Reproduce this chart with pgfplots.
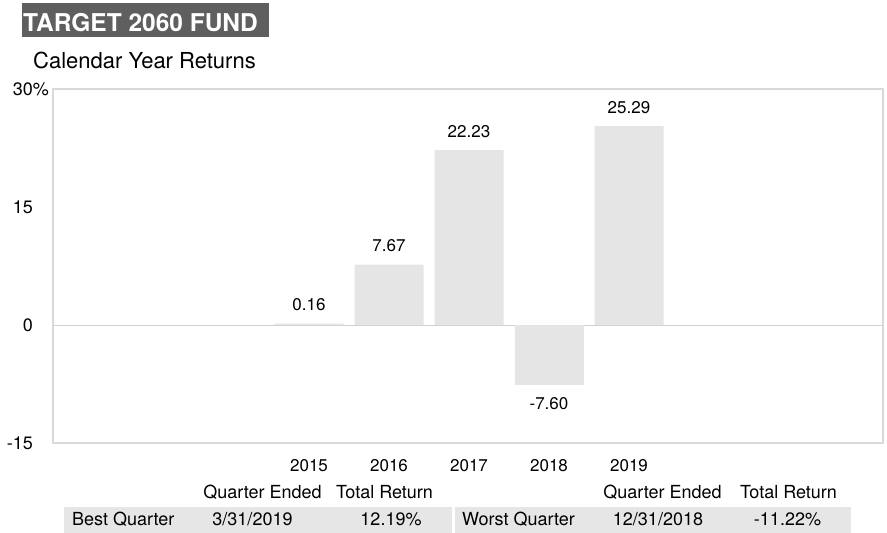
\documentclass[border=0pt]{standalone}
\usepackage{fontspec}
\setmainfont{TeX Gyre Heros}
\usepackage{pgfplots}
\pgfplotsset{compat=1.18}
\usepackage{pgfplotstable}
\definecolor{titlegray}{RGB}{95,95,95}
\definecolor{bargray}{RGB}{229,229,229}
\definecolor{framegray}{RGB}{217,217,217}
\definecolor{zerogray}{RGB}{210,210,210}
\definecolor{rowgray}{RGB}{230,230,230}

\pgfplotstableread{
year ret lab
2015 0.16 0.16
2016 7.67 7.67
2017 22.23 22.23
2019 25.29 25.29
}\posdata
\pgfplotstableread{
year ret lab
2018 -7.60 -7.60
}\negdata

\begin{document}
\begin{tikzpicture}
\path[use as bounding box] (0pt,0pt) rectangle (887pt,-533pt);
% title
\fill[titlegray] (22pt,-3pt) rectangle (269pt,-37pt);
\node[anchor=base west, inner sep=0pt, text=white, font=\fontsize{24.5}{28}\selectfont\bfseries] at (23pt,-31pt) {TARGET 2060 FUND};
\node[anchor=base west, inner sep=0pt, font=\fontsize{22}{26}\selectfont] at (33pt,-68pt) {Calendar Year Returns};

\begin{axis}[
  at={(53pt,-443pt)}, anchor=south west,
  scale only axis, width=830pt, height=354pt,
  xmin=2011.8, xmax=2022.175,
  ymin=-15, ymax=30,
  axis line style={draw=framegray, line width=2pt},
  major tick length=0pt,
  xtick={2015,2016,2017,2018,2019},
  xticklabels={2015,2016,2017,2018,2019},
  ytick={-15,0,15,30},
  yticklabels={-15,0,15,30\rlap{\%}},
  /pgf/number format/assume math mode=true,
  xticklabel style={anchor=base, inner sep=0pt, yshift=-28pt, font=\fontsize{17}{20}\selectfont},
  yticklabel style={anchor=east, inner sep=0pt, xshift=-20pt, font=\fontsize{18}{21}\selectfont},
  ybar, bar width=69pt,
  point meta=explicit symbolic,
  nodes near coords,
  clip=false,
]
\draw[zerogray, line width=1pt] (axis cs:2011.8,0) -- (axis cs:2022.175,0);
\addplot[fill=bargray, draw=none, bar shift=0pt,
  every node near coord/.style={anchor=base, inner sep=0pt, yshift=13pt, font=\fontsize{17}{20}\selectfont, text=black}]
  table[x=year, y=ret, meta=lab] {\posdata};
\addplot[fill=bargray, draw=none, bar shift=0pt,
  every node near coord/.style={anchor=base, inner sep=0pt, yshift=-25pt, font=\fontsize{17}{20}\selectfont, text=black}]
  table[x=year, y=ret, meta=lab] {\negdata};
\end{axis}

% table below
\fill[rowgray] (64pt,-507pt) rectangle (452pt,-533pt);
\fill[rowgray] (455pt,-507pt) rectangle (851pt,-533pt);
\begin{scope}[every node/.style={inner sep=0pt, font=\fontsize{18}{22}\selectfont}]
\node[anchor=base] at (262.5pt,-498pt) {Quarter Ended};
\node[anchor=base] at (384.5pt,-498pt) {Total Return};
\node[anchor=base] at (662.5pt,-498pt) {Quarter Ended};
\node[anchor=base] at (788.5pt,-498pt) {Total Return};
\node[anchor=base west] at (72pt,-525pt) {Best Quarter};
\node[anchor=base] at (252.5pt,-525pt) {3/31/2019};
\node[anchor=base] at (391pt,-525pt) {12.19\%};
\node[anchor=base west] at (462pt,-525pt) {Worst Quarter};
\node[anchor=base] at (658pt,-525pt) {12/31/2018};
\node[anchor=base] at (787.5pt,-525pt) {-11.22\%};
\end{scope}
\end{tikzpicture}
\end{document}
